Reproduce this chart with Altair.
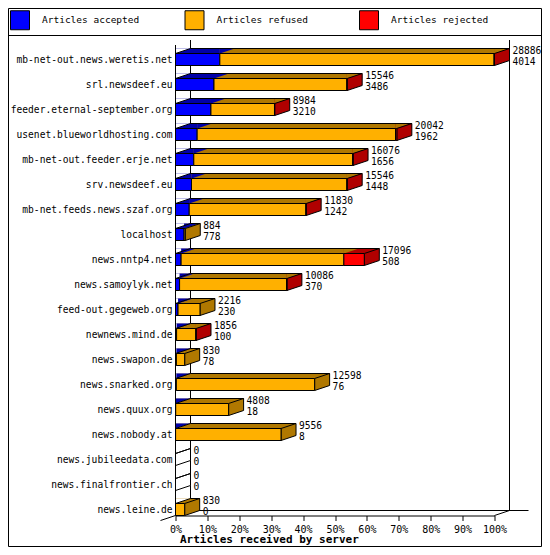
import altair as alt
import pandas as pd

# Articles per peer
servers = [
    "mb-net-out.news.weretis.net", "srl.newsdeef.eu", "feeder.eternal-september.org",
    "usenet.blueworldhosting.com", "mb-net-out.feeder.erje.net", "srv.newsdeef.eu",
    "mb-net.feeds.news.szaf.org", "localhost", "news.nntp4.net", "news.samoylyk.net",
    "feed-out.gegeweb.org", "newnews.mind.de", "news.swapon.de", "news.snarked.org",
    "news.quux.org", "news.nobody.at", "news.jubileedata.com", "news.finalfrontier.ch",
    "news.leine.de",
]
total = [28886, 15546, 8984, 20042, 16076, 15546, 11830, 884, 17096, 10086,
         2216, 1856, 830, 12598, 4808, 9556, 0, 0, 830]
accepted = [4014, 3486, 3210, 1962, 1656, 1448, 1242, 778, 508, 370,
            230, 100, 78, 76, 18, 8, 0, 0, 0]
rejected = [40, 30, 20, 120, 30, 25, 20, 0, 1850, 20,
            0, 10, 0, 0, 0, 0, 0, 0, 0]

series = ["Articles accepted", "Articles refused", "Articles rejected"]
front_colors = ["#0000ff", "#ffb000", "#ff0000"]
shade_colors = ["#0000a8", "#b07800", "#b00000"]

FONT = "DejaVu Sans Mono"
TITLE = "Articles received by server"

# custom symbol paths, scaled by sqrt(900)/2 = 15px (the depth of the 3D bars)
DEPTH = 900
TL_PATH = "M0,-0.7333L1,-0.7333L0,-0.4Z"
SIDE_PATH = "M0,-0.4L1,-0.7333L1,0.0667L0,0.4Z"
DIAG_PATH = "M0,-0.4L1,-0.7333"

# Build segment table (percent of the largest peer) and per-bar table
top = max(total)
seg_rows, bar_rows = [], []
for name, t, a, r in zip(servers, total, accepted, rejected):
    counts = [a, t - a - r, r]
    pos = 0
    prev = "white"
    last = "white"
    for s, c, sh in zip(series, counts, shade_colors):
        if c > 0:
            seg_rows.append({"server": name, "series": s,
                             "x0": pos * 100 / top, "x1": (pos + c) * 100 / top,
                             "shade": sh, "prev": prev})
            prev = sh
            last = sh
        pos += c
    bar_rows.append({"server": name, "x0": 0.0, "x1": t * 100 / top,
                     "total": str(t), "accepted": str(a), "side": last})
segs = pd.DataFrame(seg_rows)
bars = pd.DataFrame(bar_rows)
dummy = pd.DataFrame({"n": [0]})

xscale = alt.Scale(domain=[0, 100], nice=False)
yscale = alt.Scale(paddingInner=0, paddingOuter=0)
xaxis = alt.Axis(values=list(range(0, 101, 10)), labelExpr="datum.value + '%'",
                 grid=False, domainColor="black", tickColor="black", tickSize=5,
                 offset=-6.5, labelFont=FONT, labelFontSize=10, labelColor="black",
                 labelPadding=3.5, labelFlush=False, labelOverlap=False,
                 titleFont=FONT, titleFontSize=11, titleFontWeight="bold",
                 titleColor="black", titleAnchor="start", titleAlign="left",
                 titleBaseline="alphabetic", titleX=4, titleY=27)
yaxis = alt.Axis(ticks=False, domain=False, grid=False, labelFont=FONT,
                 labelFontSize=9.6, labelColor="black", labelPadding=3.5, labelLimit=220)


def xenc(field):
    return alt.X(field, type="quantitative", scale=xscale, axis=xaxis, title=TITLE)


def xdat(v):
    return alt.XDatum(v, type="quantitative", scale=xscale, axis=xaxis, title=TITLE)


def yenc():
    return alt.Y("server:N", sort=servers, scale=yscale, axis=yaxis, title=None)


def rule(mark=None, **enc):
    return alt.Chart(dummy).mark_rule(color="black", strokeWidth=1, **(mark or {})).encode(**enc)


# frame, legend separator, back walls and floor
frame = alt.Chart(dummy).mark_rect(fillOpacity=0, stroke="black", strokeWidth=1).encode(
    x=alt.value(-167), x2=alt.value(366), y=alt.value(-38.5), y2=alt.value(499.5))
decor = [
    frame,
    rule(x=alt.value(-200), x2=alt.value(400), y=alt.value(-11.5)),
    rule({"xOffset": 15}, x=xdat(0), y=alt.value(-7), y2=alt.value(463.5)),
    rule({"xOffset": 15}, x=xdat(100), y=alt.value(-7), y2=alt.value(463.5)),
    rule({"xOffset": 15, "x2Offset": 34}, x=xdat(0), x2=alt.X2Datum(100), y=alt.value(463.5)),
    rule({"x2Offset": 15}, x=xdat(100), x2=alt.X2Datum(100), y=alt.value(468.5), y2=alt.value(463.5)),
    rule({"xOffset": -15}, x=xdat(0), x2=alt.X2Datum(0), y=alt.value(473.5), y2=alt.value(468.5)),
    rule({"x2Offset": 15}, x=xdat(0), x2=alt.X2Datum(0), y=alt.value(468.5), y2=alt.value(463.5)),
]

# top faces of the segments
top_faces = alt.Chart(segs).mark_bar(size=5, yOffset=-8.5, x2Offset=15, strokeWidth=0).encode(
    x=xenc("x0"), x2="x1", y=yenc(), fill=alt.Fill("shade:N", scale=None))
top_cuts = alt.Chart(segs).mark_point(shape=TL_PATH, size=DEPTH, filled=True, opacity=1,
                                      strokeWidth=0).encode(
    x=xenc("x0"), y=yenc(), fill=alt.Fill("prev:N", scale=None))
sides = alt.Chart(bars).mark_point(shape=SIDE_PATH, size=DEPTH, filled=True, opacity=1,
                                   stroke="black", strokeWidth=1).encode(
    x=xenc("x1"), y=yenc(), fill=alt.Fill("side:N", scale=None))
left_diag = alt.Chart(bars).mark_point(shape=DIAG_PATH, size=DEPTH, filled=False, opacity=1,
                                       color="black", strokeWidth=1).encode(
    x=xenc("x0"), y=yenc())
back_edge = alt.Chart(bars).mark_rule(xOffset=15, x2Offset=15, yOffset=-11, color="black",
                                      strokeWidth=1).encode(
    x=xenc("x0"), x2="x1", y=yenc())

fronts = alt.Chart(segs).mark_bar(size=12, stroke="black", strokeWidth=1).encode(
    x=xenc("x0"), x2="x1", y=yenc(),
    color=alt.Color("series:N", scale=alt.Scale(domain=series, range=front_colors),
                    legend=alt.Legend(orient="none", legendX=-165.5, legendY=-37,
                                      direction="horizontal", columns=3, title=None,
                                      symbolType="square", symbolSize=361,
                                      symbolStrokeColor="black", symbolStrokeWidth=1,
                                      symbolOpacity=1, labelFont=FONT, labelFontSize=9.5,
                                      labelColor="black", labelOffset=12,
                                      columnPadding=42.5, gridAlign="all", padding=0)),
)
front_axis = rule(x=xdat(0), y=alt.value(-2), y2=alt.value(468.5))

text_total = alt.Chart(bars).mark_text(align="left", baseline="middle", dx=18, dy=-9,
                                       font=FONT, fontSize=9.6, color="black").encode(
    x=xenc("x1"), y=yenc(), text="total:N")
text_acc = alt.Chart(bars).mark_text(align="left", baseline="middle", dx=18, dy=2,
                                     font=FONT, fontSize=9.6, color="black").encode(
    x=xenc("x1"), y=yenc(), text="accepted:N")

chart = alt.layer(
    *decor, top_faces, top_cuts, sides, left_diag, back_edge, fronts, front_axis,
    text_total, text_acc,
).properties(
    width=319,
    height=475,
    padding={"left": 167.5, "top": 39, "right": 47.5, "bottom": 25},
    autosize=alt.AutoSizeParams(type="none"),
    background="white",
).configure_view(stroke=None)

chart.save("out.html", embed_options={"renderer": "svg", "actions": False})
